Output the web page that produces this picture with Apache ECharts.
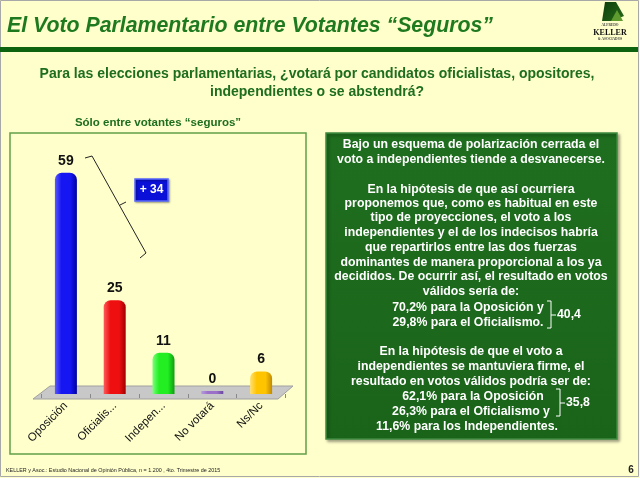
<!DOCTYPE html>
<html><head><meta charset="utf-8">
<script src="https://cdn.jsdelivr.net/npm/echarts@6/dist/echarts.min.js"></script>
<style>html,body{margin:0;padding:0;background:#FFFFCC}#c{width:640px;height:478px}</style>
</head><body><div id="c"></div>
<script>
// ---- data ----
const categories = ['Oposición', 'Oficialis...', 'Indepen...', 'No votará', 'Ns/Nc'];
const values = [59, 25, 11, 0, 6];
const barPalettes = [
  ['#5a5aff', '#1616f2', '#0000a0'],
  ['#ff5a5a', '#ee1010', '#a00000'],
  ['#7aff7a', '#22ee22', '#109a10'],
  ['#b89ae0', '#9a70c8', '#6a48a0'],
  ['#ffe070', '#ffc400', '#c08a00']
];
const title = 'El Voto Parlamentario entre Votantes “Seguros”';
const subtitle1 = 'Para las elecciones parlamentarias, ¿votará por candidatos oficialistas, opositores,';
const subtitle2 = 'independientes o se abstendrá?';
const chartTitle = 'Sólo entre votantes “seguros”';
const diffLabel = '+ 34';
const boxLines = [
  'Bajo un esquema de polarización cerrada el',
  'voto a independientes tiende a desvanecerse.',
  'En la hipótesis de que así ocurriera',
  'proponemos que, como es habitual en este',
  'tipo de proyecciones, el voto a los',
  'independientes y el de los indecisos habría',
  'que repartirlos entre las dos fuerzas',
  'dominantes de manera proporcional a los ya',
  'decididos. De ocurrir así, el resultado en votos',
  'válidos sería de:',
  '70,2% para la Oposición y',
  '29,8% para el Oficialismo.',
  'En la hipótesis de que el voto a',
  'independientes se mantuviera firme, el',
  'resultado en votos válidos podría ser de:',
  '62,1% para la Oposición',
  '26,3% para el Oficialismo y',
  '11,6% para los Independientes.'
];
const sum1 = '40,4';
const sum2 = '35,8';
const footer = 'KELLER y Asoc.: Estudio Nacional de Opinión Pública, n = 1.200 , 4to. Trimestre de 2015';
const pageNo = '6';

// ---- layout ----
const FONT = '"Liberation Sans", Arial, sans-serif';
const boxLineY = [145,160,190,204,218,233,248,263,277,292,308,323,352,367,382,397,412,427];
const boxLineX = [471,471,471,471,471,471,471,471,471,471,468,468,471,471,471,473,471,467];

function grad(p) {
  return new echarts.graphic.LinearGradient(0, 0, 1, 0, [
    {offset: 0, color: p[0]}, {offset: 0.3, color: p[1]},
    {offset: 0.7, color: p[1]}, {offset: 1, color: p[2]}
  ]);
}

const chart = echarts.init(document.getElementById('c'), null, {renderer: 'canvas'});

const elements = [];
// slide border
elements.push({type: 'rect', shape: {x: 0.5, y: 0.5, width: 638, height: 476}, style: {fill: 'none', stroke: '#a8a8a8', lineWidth: 1}});
// title
elements.push({type: 'text', style: {text: title, x: 7, y: 26, font: 'italic bold 21.3px ' + FONT, fill: '#1f7a1f', verticalAlign: 'middle'}});
// green rule
elements.push({type: 'rect', shape: {x: 0, y: 47, width: 638, height: 5}, style: {fill: '#0e640e'}});
// logo
elements.push({type: 'polygon', shape: {points: [[605,2],[616,2],[624,16],[612,21],[602,21]]}, style: {fill: new echarts.graphic.LinearGradient(0,0,1,1,[{offset:0,color:'#0a3e0a'},{offset:1,color:'#2a6a1a'}])}});
elements.push({type: 'polygon', shape: {points: [[611,21],[617,10],[623,21]]}, style: {fill: '#5e9a2e'}});
elements.push({type: 'text', style: {text: 'ALFREDO', x: 610, y: 25.5, font: 'bold 3.5px serif', fill: '#444', align: 'center', verticalAlign: 'middle'}});
elements.push({type: 'text', style: {text: 'KELLER', x: 610, y: 33, font: 'bold 8px "Liberation Serif", serif', fill: '#111', align: 'center', verticalAlign: 'middle'}});
elements.push({type: 'text', style: {text: '& ASOCIADOS', x: 610, y: 39.5, font: 'bold 3.5px serif', fill: '#444', align: 'center', verticalAlign: 'middle'}});
// subtitle
elements.push({type: 'text', style: {text: subtitle1, x: 317, y: 74, font: 'bold 14px ' + FONT, fill: '#1e6e1e', align: 'center', verticalAlign: 'middle'}});
elements.push({type: 'text', style: {text: subtitle2, x: 317, y: 92, font: 'bold 14px ' + FONT, fill: '#1e6e1e', align: 'center', verticalAlign: 'middle'}});
// chart title
elements.push({type: 'text', style: {text: chartTitle, x: 158, y: 123, font: 'bold 11.5px ' + FONT, fill: '#1e6e1e', align: 'center', verticalAlign: 'middle'}});
// chart frame
elements.push({type: 'rect', shape: {x: 10, y: 133, width: 296, height: 321}, style: {fill: 'none', stroke: '#62a04a', lineWidth: 1.5}});
// floor
elements.push({type: 'polygon', shape: {points: [[50,386],[293,386],[278,399],[33,399]]}, style: {fill: '#c8c8c8', stroke: '#a0a0a0', lineWidth: 1}});
// bracket annotation
elements.push({type: 'polyline', shape: {points: [[85,158],[92,156],[146,253],[140,258]]}, style: {stroke: '#222', lineWidth: 1, fill: null}});
elements.push({type: 'polyline', shape: {points: [[120,205],[126,202]]}, style: {stroke: '#222', lineWidth: 1}});
elements.push({type: 'rect', shape: {x: 135, y: 179, width: 33, height: 22}, style: {fill: '#0a10d8', stroke: '#5a6aff', lineWidth: 1.5, shadowBlur: 2, shadowColor: 'rgba(0,0,0,0.35)', shadowOffsetX: 1, shadowOffsetY: 1}});
elements.push({type: 'text', style: {text: diffLabel, x: 151.5, y: 190, font: 'bold 12px ' + FONT, fill: '#fff', align: 'center', verticalAlign: 'middle'}});
// text box
elements.push({type: 'rect', shape: {x: 326, y: 133, width: 291, height: 306}, style: {fill: new echarts.graphic.LinearGradient(0,0,0,1,[{offset:0,color:'#1f6e1f'},{offset:1,color:'#1a641a'}]), stroke: '#3e8a3e', lineWidth: 1.5, shadowBlur: 3, shadowColor: 'rgba(0,0,0,0.35)', shadowOffsetX: 2, shadowOffsetY: 2}});
boxLines.forEach(function (t, i) {
  elements.push({type: 'text', style: {text: t, x: boxLineX[i], y: boxLineY[i], font: 'bold 12.3px ' + FONT, fill: '#ffffff', align: 'center', verticalAlign: 'middle'}});
});
// brackets in text box
elements.push({type: 'polyline', shape: {points: [[547,301],[551,301],[551,328],[547,328]]}, style: {stroke: '#fff', lineWidth: 1, fill: null}});
elements.push({type: 'polyline', shape: {points: [[551,315],[556,315]]}, style: {stroke: '#fff', lineWidth: 1}});
elements.push({type: 'text', style: {text: sum1, x: 557, y: 315, font: 'bold 12.3px ' + FONT, fill: '#fff', verticalAlign: 'middle'}});
elements.push({type: 'polyline', shape: {points: [[556,389],[560,389],[560,416],[556,416]]}, style: {stroke: '#fff', lineWidth: 1, fill: null}});
elements.push({type: 'polyline', shape: {points: [[560,403],[565,403]]}, style: {stroke: '#fff', lineWidth: 1}});
elements.push({type: 'text', style: {text: sum2, x: 566, y: 403, font: 'bold 12.3px ' + FONT, fill: '#fff', verticalAlign: 'middle'}});
// footer
elements.push({type: 'text', style: {text: footer, x: 6, y: 471, font: '5.4px ' + FONT, fill: '#222', verticalAlign: 'middle'}});
elements.push({type: 'text', style: {text: pageNo, x: 631, y: 470, font: 'bold 10px ' + FONT, fill: '#222', align: 'center', verticalAlign: 'middle'}});

const option = {
  backgroundColor: '#FFFFCC',
  animation: false,
  grid: {left: 41.5, width: 244, top: 169, height: 225},
  xAxis: {
    type: 'category',
    data: categories,
    offset: 5,
    axisLine: {show: false},
    axisTick: {show: true, length: 4, lineStyle: {color: '#888'}},
    axisLabel: {rotate: 45, fontSize: 11.5, color: '#111', fontFamily: FONT, margin: 5, interval: 0}
  },
  yAxis: {type: 'value', min: 0, max: 60, show: false},
  series: [{
    type: 'bar',
    barWidth: 22,
    barMinHeight: 3,
    data: values.map(function (v, i) {
      return {value: v, itemStyle: {color: grad(barPalettes[i]), borderRadius: v > 0 ? [7, 7, 0, 0] : 0}};
    }),
    label: {show: true, position: 'top', distance: 5, fontSize: 14, fontWeight: 'bold', color: '#111', fontFamily: FONT}
  }],
  graphic: {elements: elements}
};
chart.setOption(option);
</script>
</body></html>
